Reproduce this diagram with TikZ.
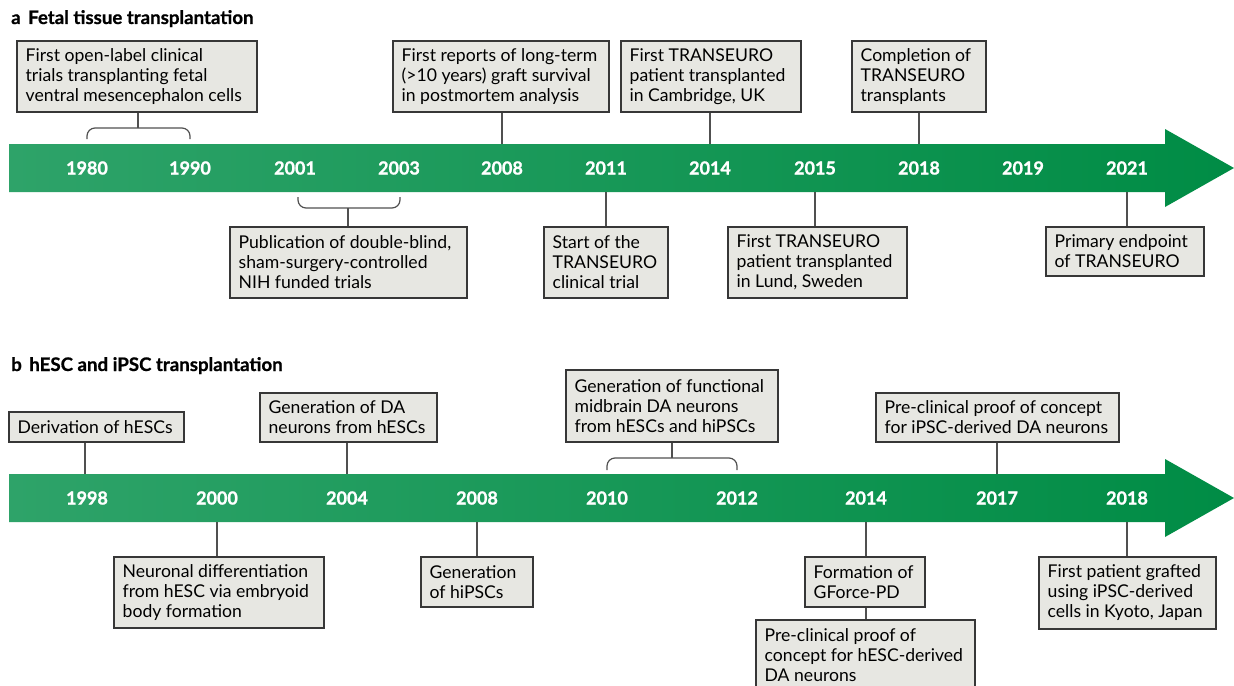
\documentclass[tikz,border=0pt]{standalone}
\usepackage{fontspec}
\setmainfont{Lato}
\newfontfamily\yearfont{Lato}[BoldFeatures={FakeBold=1.2}]
\newfontfamily\titlefont{Lato}[BoldFeatures={FakeBold=0.8}]
\definecolor{arrowL}{RGB}{46,163,105}
\definecolor{arrowR}{RGB}{0,140,69}
\definecolor{boxfill}{RGB}{231,231,226}
\definecolor{boxline}{RGB}{55,55,55}
\definecolor{connline}{RGB}{80,80,80}
\tikzset{
  evbox/.style={draw=boxline, fill=boxfill, line width=0.9pt, inner sep=0pt},
  evtext/.style={anchor=west, inner sep=0pt, align=left,
    font=\fontsize{13.2pt}{15pt}\selectfont},
  yearlbl/.style={text=white, font=\yearfont\bfseries\fontsize{13.5pt}{15pt}\selectfont, inner sep=0pt},
  conn/.style={draw=connline, line width=0.9pt},
  paneltitle/.style={anchor=base west, inner sep=0pt, font=\titlefont\bfseries\fontsize{14pt}{16pt}\selectfont},
}
% event box: name, x1, y1, x2, y2, text (left aligned, vertically centred)
\newcommand\evbox[6]{%
  \node[evbox, minimum width={(#4-#2)*0.75pt}, minimum height={(#5-#3)*0.75pt}]
    (#1) at ({(#2+#4)/2},{(#3+#5)/2}) {};
  \node[evtext] (#1t) at ([xshift=6.75pt]#1.west) {#6};}
\begin{document}
\begin{tikzpicture}[x=0.75pt, y=-0.75pt]
\useasboundingbox (0,0) rectangle (1234,685);
\begin{scope}
\clip (0,0) rectangle (1234,685);

% ---------------- panel a ----------------
\node[paneltitle] (ta) at (11,24) {a\hspace{0.4em}Fetal tissue transplantation};

\shade[left color=arrowL, right color=arrowR]
  (9,144) -- (1165,144) -- (1165,129) -- (1234,168) -- (1165,207) -- (1165,192) -- (9,192) -- cycle;
\coordinate (atopA) at (0,144);
\coordinate (abotA) at (0,192);

\foreach \yr/\xx in {1980/87,1990/190,2001/295,2003/399,2008/502,2011/606,2014/710,2015/815,2018/919,2019/1023,2021/1127}
  \node[yearlbl] (a\yr) at (\xx,168) {\yr};

\evbox{A1}{17}{41}{257}{112}{First open-label clinical\\trials transplanting fetal\\ventral mesencephalon cells}
\evbox{A2}{393}{41}{609}{112}{First reports of long-term\\(>10 years) graft survival\\in postmortem analysis}
\evbox{A3}{621}{41}{801}{112}{First TRANSEURO\\patient transplanted\\in Cambridge, UK}
\evbox{A4}{852}{41}{986}{112}{Completion of\\TRANSEURO\\transplants}

\evbox{B1}{230}{227}{467}{298}{Publication of double-blind,\\sham-surgery-controlled\\NIH funded trials}
\evbox{B2}{544}{227}{668}{298}{Start of the\\TRANSEURO\\clinical trial}
\evbox{B3}{728}{227}{907}{298}{First TRANSEURO\\patient transplanted\\in Lund, Sweden}
\evbox{B4}{1046}{227}{1204}{276}{Primary endpoint\\of TRANSEURO}

% bracket over 1980--1990
\coordinate (brA) at (138,128);
\draw[conn, rounded corners=6pt] (a1980 |- 0,139) -- (a1980 |- brA) -- (a1990 |- brA) -- (a1990 |- 0,139);
\draw[conn] (A1.south -| brA) -- (brA);
% bracket under 2001--2003
\coordinate (brB) at (348,208);
\draw[conn, rounded corners=6pt] (298,197) -- (298,208) -- (400,208) -- (400,197);
\draw[conn] (B1.north -| brB) -- (brB);

\draw[conn] (A2.south -| a2008) -- (a2008 |- atopA);
\draw[conn] (A3.south -| a2014) -- (a2014 |- atopA);
\draw[conn] (A4.south -| a2018) -- (a2018 |- atopA);
\draw[conn] (B2.north -| a2011) -- (a2011 |- abotA);
\draw[conn] (B3.north -| a2015) -- (a2015 |- abotA);
\draw[conn] (B4.north -| a2021) -- (a2021 |- abotA);

% ---------------- panel b ----------------
\node[paneltitle] (tb) at (11,371) {b\hspace{0.4em}hESC and iPSC transplantation};

\shade[left color=arrowL, right color=arrowR]
  (9,474) -- (1165,474) -- (1165,459) -- (1234,498) -- (1165,537) -- (1165,522) -- (9,522) -- cycle;
\coordinate (atopB) at (0,474);
\coordinate (abotB) at (0,522);

\foreach \yr/\xx in {1998/87,2000/217,2004/347,2008/477,2010/607,2012/737,2014/866,2017/997,2018/1127}
  \node[yearlbl] (b\yr) at (\xx,498) {\yr};

\evbox{C1}{9}{412}{184}{442}{Derivation of hESCs}
\evbox{C2}{260}{393}{437}{442}{Generation of DA\\neurons from hESCs}
\evbox{C3}{566}{370}{778}{442}{Generation of functional\\midbrain DA neurons\\from hESCs and hiPSCs}
\evbox{C4}{876}{393}{1119}{442}{Pre-clinical proof of concept\\for iPSC-derived DA neurons}

\evbox{D1}{114}{557}{324}{628}{Neuronal differentiation\\from hESC via embryoid\\body formation}
\evbox{D2}{421}{557}{533}{607}{Generation\\of hiPSCs}
\evbox{D3}{805}{557}{925}{607}{Formation of\\GForce-PD}
\evbox{D4}{756}{620}{975}{691}{Pre-clinical proof of\\concept for hESC-derived\\DA neurons}
\evbox{D5}{1039}{557}{1216}{629}{First patient grafted\\using iPSC-derived\\cells in Kyoto, Japan}

\draw[conn] ([xshift=-1.5pt]C1.south -| b1998) -- ([xshift=-1.5pt]b1998 |- atopB);
\draw[conn] (C2.south -| b2004) -- (b2004 |- atopB);
\draw[conn] (C4.south -| b2017) -- (b2017 |- atopB);
% bracket over 2010--2012
\coordinate (brC) at (672,458);
\draw[conn, rounded corners=6pt] (b2010 |- 0,470) -- (b2010 |- brC) -- (b2012 |- brC) -- (b2012 |- 0,470);
\draw[conn] (C3.south -| brC) -- (brC);

\draw[conn] (D1.north -| b2000) -- (b2000 |- abotB);
\draw[conn] (D2.north -| b2008) -- (b2008 |- abotB);
\draw[conn] (D3.north -| b2014) -- (b2014 |- abotB);
\draw[conn] (D3.south -| b2014) -- (D4.north -| b2014);
\draw[conn] (D5.north -| b2018) -- (b2018 |- abotB);
\end{scope}
\end{tikzpicture}
\end{document}
